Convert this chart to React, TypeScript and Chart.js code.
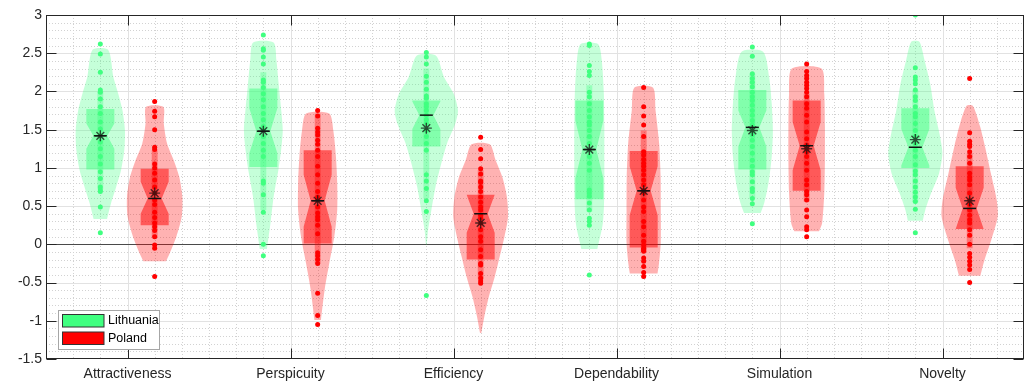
import React, { useEffect, useRef } from 'react';
import { Chart, registerables } from 'chart.js';

Chart.register(...registerables);

const categories = ['Attractiveness', 'Perspicuity', 'Efficiency', 'Dependability', 'Simulation', 'Novelty'];
const seriesNames = ['Lithuania', 'Poland'];
const yTickValues = [-1.5, -1, -0.5, 0, 0.5, 1, 1.5, 2, 2.5, 3];

// individual responses (dots)
const lithuaniaDots: number[][] = [
  [2.62, 2.49, 2.25, 2.02, 1.99, 1.9, 1.8, 1.71, 1.6, 1.51, 1.42, 1.34, 1.25, 1.15, 1.05, 0.95, 0.86, 0.75, 0.71, 0.69, 0.49, 0.15],
  [2.74, 2.56, 2.54, 2.45, 2.36, 2.15, 2.12, 2.05, 1.97, 1.89, 1.8, 1.71, 1.63, 1.54, 1.5, 1.41, 1.32, 1.23, 1.15, 0.83, 0.8, 0.65, 0.42, 0.0, -0.15],
  [2.51, 2.45, 2.36, 2.2, 2.12, 2.03, 1.94, 1.91, 1.84, 1.8, 1.75, 1.69, 1.63, 1.58, 1.49, 1.41, 1.32, 1.23, 0.91, 0.83, 0.73, 0.57, 0.43, -0.67],
  [2.62, 2.6, 2.34, 2.26, 2.21, 1.99, 1.93, 1.84, 1.75, 1.67, 1.6, 1.56, 1.49, 1.41, 1.32, 1.23, 1.15, 1.06, 0.97, 0.71, 0.67, 0.63, 0.54, 0.45, 0.34, 0.3, 0.25, -0.4],
  [2.58, 2.46, 2.23, 2.17, 2.12, 2.06, 1.99, 1.93, 1.88, 1.82, 1.75, 1.69, 1.62, 1.56, 1.49, 1.43, 1.36, 1.28, 1.19, 1.1, 1.02, 0.95, 0.91, 0.82, 0.73, 0.69, 0.6, 0.53, 0.27],
  [3.0, 2.31, 2.19, 2.15, 2.1, 2.02, 1.93, 1.88, 1.8, 1.71, 1.67, 1.58, 1.49, 1.41, 1.32, 1.23, 1.15, 1.04, 0.96, 0.91, 0.83, 0.75, 0.68, 0.62, 0.56, 0.46, 0.15],
];
const polandDots: number[][] = [
  [1.87, 1.74, 1.67, 1.5, 1.27, 1.24, 1.05, 1.0, 0.93, 0.84, 0.75, 0.67, 0.58, 0.52, 0.42, 0.35, 0.28, 0.23, 0.18, 0.1, -0.01, -0.05, -0.42],
  [1.75, 1.68, 1.52, 1.47, 1.43, 1.36, 1.31, 1.23, 1.15, 1.02, 0.91, 0.8, 0.69, 0.62, 0.58, 0.49, 0.41, 0.36, 0.32, 0.25, 0.14, -0.11, -0.15, -0.2, -0.25, -0.64, -0.93, -1.05],
  [1.4, 1.24, 1.12, 0.99, 0.92, 0.83, 0.81, 0.75, 0.69, 0.62, 0.55, 0.49, 0.45, 0.38, 0.34, 0.28, 0.19, 0.1, 0.04, -0.07, -0.16, -0.25, -0.27, -0.38, -0.44, -0.48, -0.51],
  [2.05, 1.8, 1.68, 1.56, 1.41, 1.21, 1.17, 1.11, 1.06, 1.02, 0.97, 0.91, 0.84, 0.78, 0.71, 0.67, 0.58, 0.49, 0.43, 0.3, 0.23, 0.12, 0.04, -0.01, -0.05, -0.07, -0.09, -0.18, -0.22, -0.29, -0.37, -0.42],
  [2.36, 2.26, 2.21, 2.17, 2.12, 2.08, 2.04, 1.99, 1.93, 1.84, 1.78, 1.69, 1.6, 1.47, 1.38, 1.3, 1.25, 1.21, 1.15, 1.06, 0.97, 0.84, 0.78, 0.69, 0.65, 0.58, 0.45, 0.36, 0.23, 0.19, 0.1],
  [2.17, 1.46, 1.35, 1.31, 1.28, 1.21, 1.15, 1.06, 0.93, 0.88, 0.84, 0.78, 0.67, 0.58, 0.52, 0.45, 0.38, 0.32, 0.28, 0.19, 0.12, 0.0, -0.12, -0.17, -0.22, -0.27, -0.33, -0.5],
];

// violin density profiles: [value, half-width in category units]
const lithuaniaViolin: number[][][] = [
  [[0.33, 0.041], [0.54, 0.066], [0.75, 0.097], [0.97, 0.127], [1.23, 0.147], [1.49, 0.151], [1.75, 0.136], [1.97, 0.11], [2.19, 0.08], [2.545, 0.048]],
  [[-0.06, 0.022], [0.28, 0.044], [0.62, 0.063], [0.97, 0.092], [1.23, 0.109], [1.49, 0.119], [1.75, 0.11], [2.1, 0.094], [2.41, 0.08], [2.64, 0.063]],
  [[-0.01, 0.002], [0.19, 0.011], [0.45, 0.031], [0.75, 0.056], [1.06, 0.092], [1.32, 0.127], [1.58, 0.178], [1.75, 0.194], [1.97, 0.168], [2.19, 0.108], [2.47, 0.058]],
  [[-0.06, 0.049], [0.28, 0.083], [0.67, 0.092], [1.1, 0.092], [1.54, 0.092], [1.97, 0.089], [2.41, 0.076], [2.62, 0.053]],
  [[0.41, 0.051], [0.54, 0.073], [0.8, 0.099], [1.15, 0.119], [1.49, 0.126], [1.84, 0.119], [2.19, 0.103], [2.52, 0.066]],
  [[0.31, 0.046], [0.45, 0.061], [0.67, 0.097], [0.93, 0.146], [1.19, 0.166], [1.45, 0.148], [1.75, 0.117], [2.1, 0.091], [2.41, 0.056], [2.65, 0.025]],
];
const polandViolin: number[][][] = [
  [[-0.22, 0.07], [-0.12, 0.092], [0.1, 0.133], [0.36, 0.166], [0.62, 0.17], [0.88, 0.151], [1.1, 0.117], [1.32, 0.076], [1.58, 0.056], [1.8, 0.053]],
  [[-0.99, 0.02], [-0.59, 0.043], [-0.25, 0.071], [0.1, 0.102], [0.45, 0.12], [0.8, 0.12], [1.15, 0.112], [1.49, 0.096], [1.71, 0.071]],
  [[-1.16, 0.004], [-0.94, 0.023], [-0.68, 0.051], [-0.42, 0.087], [-0.16, 0.117], [0.1, 0.146], [0.36, 0.168], [0.62, 0.161], [0.88, 0.133], [1.1, 0.092], [1.31, 0.056]],
  [[-0.38, 0.085], [-0.25, 0.094], [0.02, 0.105], [0.45, 0.105], [0.88, 0.104], [1.32, 0.095], [1.75, 0.073], [2.05, 0.057]],
  [[0.17, 0.076], [0.28, 0.095], [0.67, 0.108], [1.1, 0.112], [1.54, 0.112], [1.97, 0.108], [2.3, 0.091]],
  [[-0.41, 0.066], [-0.2, 0.092], [0.06, 0.133], [0.36, 0.172], [0.58, 0.166], [0.93, 0.13], [1.28, 0.094], [1.54, 0.064], [1.81, 0.02]],
];

// box statistics
const lithuaniaQ1 = [0.98, 1.01, 1.28, 0.59, 0.98, 1.0];
const lithuaniaQ3 = [1.77, 2.04, 1.88, 1.88, 2.02, 1.78];
const lithuaniaMedian = [1.42, 1.48, 1.69, 1.24, 1.53, 1.27];
const lithuaniaMean = [1.42, 1.48, 1.52, 1.24, 1.49, 1.37];
const lithuaniaNotchLo = [1.25, 1.19, 1.51, 0.86, 1.28, 1.03];
const lithuaniaNotchHi = [1.58, 1.78, 1.87, 1.62, 1.75, 1.51];
const lithuaniaWhiskerLo = [0.72, 0.45, 0.6, 0.43, 0.6, 0.55];
const lithuaniaWhiskerHi = [2.0, 2.25, 2.3, 2.08, 2.23, 2.02];

const polandQ1 = [0.25, 0.01, -0.2, -0.04, 0.7, 0.2];
const polandQ3 = [0.99, 1.23, 0.65, 1.22, 1.88, 1.02];
const polandMedian = [0.6, 0.57, 0.4, 0.7, 1.29, 0.47];
const polandMean = [0.67, 0.57, 0.28, 0.7, 1.25, 0.57];
const polandNotchLo = [0.4, 0.23, 0.15, 0.38, 0.97, 0.2];
const polandNotchHi = [0.82, 0.91, 0.65, 1.02, 1.6, 0.74];
const polandWhiskerLo = [0.09, -0.25, -0.46, -0.1, 0.56, -0.05];
const polandWhiskerHi = [1.23, 1.71, 0.97, 1.49, 1.97, 1.19];

const LT_RGB = '64,255,128';
const PL_RGB = '255,0,0';
const rgba = (rgb: string, a: number) => `rgba(${rgb},${a})`;

const GROUP_OFFSET = 1 / 6;
const BOX_HALF = 0.086;
const NOTCH_HALF = 0.043;
const WHISKER_HALF = 0.018;
const FONT = "'Liberation Sans', Arial, Helvetica, sans-serif";

type Series = {
  name: string; rgb: string; offset: number; dots: number[][]; violin: number[][][];
  q1: number[]; q3: number[]; median: number[]; mean: number[];
  notchLo: number[]; notchHi: number[]; whiskerLo: number[]; whiskerHi: number[];
};

const series: Series[] = [
  { name: seriesNames[0], rgb: LT_RGB, offset: -GROUP_OFFSET, dots: lithuaniaDots, violin: lithuaniaViolin,
    q1: lithuaniaQ1, q3: lithuaniaQ3, median: lithuaniaMedian, mean: lithuaniaMean,
    notchLo: lithuaniaNotchLo, notchHi: lithuaniaNotchHi, whiskerLo: lithuaniaWhiskerLo, whiskerHi: lithuaniaWhiskerHi },
  { name: seriesNames[1], rgb: PL_RGB, offset: GROUP_OFFSET, dots: polandDots, violin: polandViolin,
    q1: polandQ1, q3: polandQ3, median: polandMedian, mean: polandMean,
    notchLo: polandNotchLo, notchHi: polandNotchHi, whiskerLo: polandWhiskerLo, whiskerHi: polandWhiskerHi },
];

function buildDatasets() {
  const ds: any[] = [];
  const shape = (data: any[], color: string, order: number, tension: number) => ({
    data, showLine: true, fill: 'shape', backgroundColor: color, borderColor: 'rgba(0,0,0,0)',
    borderWidth: 0, pointRadius: 0, tension, order,
  });
  series.forEach((s) => {
    categories.forEach((_, i) => {
      const c = i + 1 + s.offset;
      const prof = s.violin[i];
      const left = prof.map(([v, w]) => ({ x: c - w, y: v }));
      const right = prof.slice().reverse().map(([v, w]) => ({ x: c + w, y: v }));
      ds.push(shape([...left, ...right], rgba(s.rgb, 0.3), 6, 0.25));

      const B = BOX_HALF, N = NOTCH_HALF;
      const q1 = s.q1[i], q3 = s.q3[i], md = s.median[i], nl = s.notchLo[i], nh = s.notchHi[i];
      ds.push(shape([
        { x: c - B, y: q1 }, { x: c - B, y: nl }, { x: c - N, y: md },
        { x: c - B, y: nh }, { x: c - B, y: q3 }, { x: c + B, y: q3 },
        { x: c + B, y: nh }, { x: c + N, y: md }, { x: c + B, y: nl },
        { x: c + B, y: q1 },
      ], rgba(s.rgb, 0.5), 5, 0));

      ds.push(shape([
        { x: c - WHISKER_HALF, y: s.whiskerLo[i] }, { x: c - WHISKER_HALF, y: s.whiskerHi[i] },
        { x: c + WHISKER_HALF, y: s.whiskerHi[i] }, { x: c + WHISKER_HALF, y: s.whiskerLo[i] },
      ], rgba(s.rgb, 0.35), 4, 0));
    });
    ds.push({
      data: s.dots.flatMap((arr, i) => arr.map((v) => ({ x: i + 1 + s.offset, y: v }))),
      showLine: false, pointRadius: 2.5, backgroundColor: rgba(s.rgb, 1), borderColor: rgba(s.rgb, 1),
      borderWidth: 0, order: 3,
    });
    ds.push({
      data: s.median.map((v, i) => ({ x: i + 1 + s.offset, y: v })),
      showLine: false, pointStyle: 'line', pointRadius: 6.5, borderColor: '#111', borderWidth: 1.5, order: 2,
    });
    ds.push({
      data: s.mean.map((v, i) => ({ x: i + 1 + s.offset, y: v })),
      showLine: false, pointStyle: 'star', pointRadius: 5.5, borderColor: 'rgba(20,20,20,0.75)', borderWidth: 1.4, order: 1,
    });
  });
  return ds;
}

const framePlugin = {
  id: 'matlabFrame',
  beforeDatasetsDraw(chart: any) {
    const { ctx, chartArea: a, scales } = chart;
    const x = scales.x, y = scales.y;
    ctx.save();
    ctx.lineWidth = 1;
    const hline = (py: number) => { ctx.beginPath(); ctx.moveTo(a.left, py); ctx.lineTo(a.right, py); ctx.stroke(); };
    const vline = (px: number) => { ctx.beginPath(); ctx.moveTo(px, a.top); ctx.lineTo(px, a.bottom); ctx.stroke(); };
    // minor grid
    ctx.strokeStyle = '#d2d2d2';
    ctx.setLineDash([1, 2]);
    for (let k = 1; k < 45; k++) {
      if (k % 5 === 0) continue;
      hline(Math.round(y.getPixelForValue(-1.5 + k * 0.1)) + 0.5);
    }
    for (let k = 1; k < 36; k++) {
      if (k % 6 === 3) continue;
      vline(Math.round(x.getPixelForValue(0.5 + k / 6)) + 0.5);
    }
    ctx.setLineDash([]);
    // major grid
    ctx.strokeStyle = '#e2e2e2';
    yTickValues.forEach((v) => {
      if (v <= -1.5 || v >= 3) return;
      hline(Math.round(y.getPixelForValue(v)) + 0.5);
    });
    categories.forEach((_, i) => vline(Math.round(x.getPixelForValue(i + 1)) + 0.5));
    // zero line
    ctx.strokeStyle = '#4a4a4a';
    hline(Math.round(y.getPixelForValue(0)) + 0.5);
    ctx.restore();
  },
  afterDatasetsDraw(chart: any) {
    const { ctx, chartArea: a, scales } = chart;
    const x = scales.x, y = scales.y;
    ctx.save();
    ctx.strokeStyle = '#262626';
    ctx.lineWidth = 1;
    const L = Math.round(a.left) + 0.5, R = Math.round(a.right) - 0.5;
    const T = Math.round(a.top) + 0.5, Bt = Math.round(a.bottom) - 0.5;
    ctx.strokeRect(L, T, R - L, Bt - T);
    const tick = 10;
    ctx.beginPath();
    categories.forEach((_, i) => {
      const px = Math.round(x.getPixelForValue(i + 1)) + 0.5;
      ctx.moveTo(px, Bt); ctx.lineTo(px, Bt - tick);
      ctx.moveTo(px, T); ctx.lineTo(px, T + tick);
    });
    yTickValues.forEach((v) => {
      const py = Math.round(y.getPixelForValue(v)) + 0.5;
      ctx.moveTo(L, py); ctx.lineTo(L + tick, py);
      ctx.moveTo(R, py); ctx.lineTo(R - tick, py);
    });
    ctx.stroke();

    // legend
    const bx = Math.round(a.left + 11.5) + 0.5;
    const by = Math.round(a.bottom - 49.5) + 0.5;
    const bw = 101, bh = 39;
    ctx.fillStyle = '#ffffff';
    ctx.fillRect(bx, by, bw, bh);
    ctx.strokeStyle = '#a6a6a6';
    ctx.strokeRect(bx, by, bw, bh);
    ctx.font = `12.5px ${FONT}`;
    ctx.textBaseline = 'middle';
    ctx.textAlign = 'left';
    series.forEach((s, k) => {
      const py = by + 4 + k * 17.5;
      ctx.fillStyle = rgba(s.rgb, 1);
      ctx.fillRect(bx + 4, py, 41.5, 12.5);
      ctx.strokeStyle = '#333333';
      ctx.strokeRect(bx + 4, py, 41.5, 12.5);
      ctx.fillStyle = '#000000';
      ctx.fillText(s.name, bx + 49.5, py + 6.5);
    });
    ctx.restore();
  },
};

export default function App() {
  const canvasRef = useRef<HTMLCanvasElement | null>(null);

  useEffect(() => {
    document.body.style.margin = '0';
    const canvas = canvasRef.current;
    if (!canvas) return;
    const chart = new Chart(canvas, {
      type: 'scatter',
      data: { datasets: buildDatasets() },
      options: {
        animation: false,
        responsive: false,
        devicePixelRatio: 1,
        events: [],
        layout: { padding: { top: 15, right: 5, left: 0, bottom: 0 } },
        plugins: { legend: { display: false }, tooltip: { enabled: false } },
        scales: {
          x: {
            type: 'linear', min: 0.5, max: 6.5,
            afterBuildTicks: (s: any) => { s.ticks = categories.map((_, i) => ({ value: i + 1 })); },
            afterFit: (s: any) => { s.height = 24; },
            ticks: {
              callback: (v: any) => categories[Math.round(Number(v)) - 1] ?? '',
              font: { family: FONT, size: 14 }, color: '#262626', padding: 7,
              maxRotation: 0, autoSkip: false,
            },
            grid: { display: false, drawTicks: false },
            border: { display: false },
          },
          y: {
            type: 'linear', min: -1.5, max: 3,
            afterBuildTicks: (s: any) => { s.ticks = yTickValues.map((v) => ({ value: v })); },
            afterFit: (s: any) => { s.width = 46; },
            ticks: {
              callback: (v: any) => String(v),
              font: { family: FONT, size: 14 }, color: '#262626', padding: 4,
            },
            grid: { display: false, drawTicks: false },
            border: { display: false },
          },
        },
      } as any,
      plugins: [framePlugin],
    });
    return () => chart.destroy();
  }, []);

  return (
    <div style={{ width: 1032, height: 383 }}>
      <canvas ref={canvasRef} width={1032} height={383} style={{ display: 'block' }} />
    </div>
  );
}
